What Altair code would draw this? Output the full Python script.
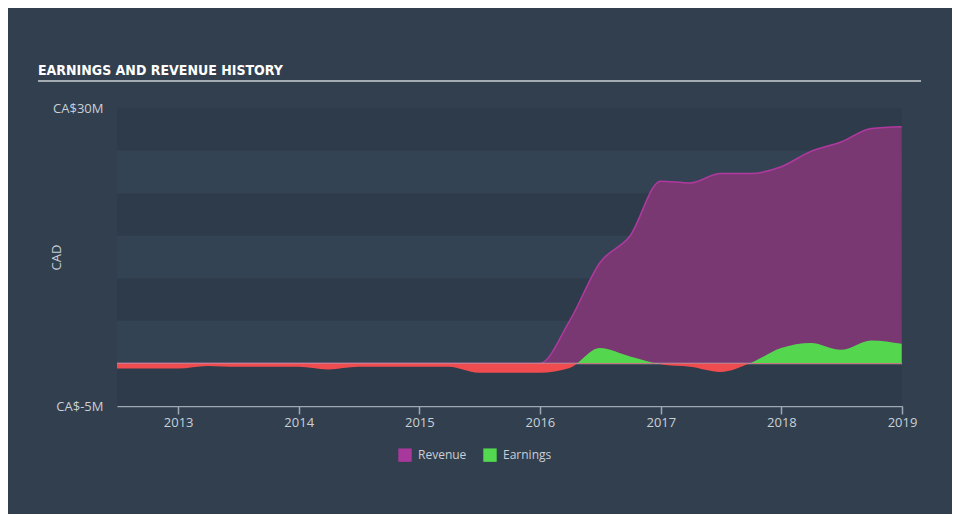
import altair as alt
import pandas as pd

# ---- data ----
dates = [
    "2012-06-30", "2012-09-30", "2012-12-31",
    "2013-03-31", "2013-06-30", "2013-09-30", "2013-12-31",
    "2014-03-31", "2014-06-30", "2014-09-30", "2014-12-31",
    "2015-03-31", "2015-06-30", "2015-09-30", "2015-12-31",
    "2016-03-31", "2016-06-30", "2016-09-30", "2016-12-31",
    "2017-03-31", "2017-06-30", "2017-09-30", "2017-12-31",
    "2018-03-31", "2018-06-30", "2018-09-30", "2018-12-31",
]
revenue = [
    0.0, 0.0, 0.0,
    0.0, 0.0, 0.0, 0.0,
    0.0, 0.0, 0.0, 0.0,
    0.0, 0.0, 0.0, 0.0,
    5.0, 11.8, 15.0, 21.4,
    21.2, 22.3, 22.3, 23.1,
    24.9, 26.0, 27.6, 27.8,
]
earnings = [
    -0.6, -0.6, -0.6,
    -0.3, -0.4, -0.4, -0.4,
    -0.7, -0.4, -0.4, -0.4,
    -0.4, -1.1, -1.1, -1.1,
    -0.55, 1.8, 0.8, -0.1,
    -0.4, -1.0, 0.05, 1.8,
    2.4, 1.6, 2.7, 2.3,
]
band_lo = [-5, 5, 15, 25]
band_hi = [0, 10, 20, 30]
series = ["Revenue", "Earnings"]
series_colors = ["#a8389b", "#52d94f"]
y_ticks = [-5, 30]
title_text = "EARNINGS AND REVENUE HISTORY"

# ---- styling ----
W, H = 785, 298
BG = "#323f4e"
LIGHT_BAND = "#344353"
DARK_BAND = "#2e3b4a"
TXT = "#c9d0d7"
AXIS_LINE = "#9ea8b3"
FONT = "Open Sans"
TITLE_FONT = "'DejaVu Sans Condensed', 'Roboto Condensed', Roboto, sans-serif"

df = pd.DataFrame({"date": dates, "revenue": revenue, "earnings": earnings})
bands = pd.DataFrame({"lo": band_lo, "hi": band_hi})
leg = pd.DataFrame({"series": series, "date": [dates[0]] * 2, "v": [0, 0]})

xscale = alt.Scale(
    type="utc",
    domain=[alt.DateTime(year=2012, month=6, date=30, utc=True),
            alt.DateTime(year=2019, month=1, date=1, utc=True)],
)
yscale = alt.Scale(domain=[-5, 30], nice=False, zero=False)

xaxis = alt.Axis(
    format="%Y", tickCount=alt.TimeIntervalStep(interval="year", step=1),
    grid=False, title=None, domainColor=AXIS_LINE, domainWidth=1.5,
    tickColor=AXIS_LINE, tickSize=8, tickWidth=1.5,
    labelColor=TXT, labelFontSize=13, labelFont=FONT, labelPadding=2,
    labelFlush=False,
)
yaxis = alt.Axis(
    values=y_ticks, labelExpr="'CA$' + datum.value + 'M'",
    grid=False, domain=False, ticks=False, labelPadding=14,
    labelColor=TXT, labelFontSize=13, labelFont=FONT,
    title="CAD", titleColor=TXT, titleFont=FONT, titleFontSize=13,
    titleFontWeight="normal", titleX=-61, titleY=H / 2, titleBaseline="middle",
)

X = alt.X("date:T", scale=xscale, axis=xaxis)

band_layer = alt.Chart(bands).mark_rect(color=DARK_BAND).encode(
    y=alt.Y("lo:Q", scale=yscale, axis=yaxis),
    y2="hi:Q",
    x=alt.value(0),
    x2=alt.value(W),
)

base = alt.Chart(df)
rev_area = base.mark_area(color="#7a3873", interpolate="monotone").encode(
    x=X, y=alt.Y("revenue:Q", scale=yscale, axis=yaxis)
)
rev_line = base.mark_line(color="#b0399f", strokeWidth=1.5, interpolate="monotone").encode(
    x=X, y=alt.Y("revenue:Q", scale=yscale, axis=yaxis)
)
zero_rule = alt.Chart(pd.DataFrame({"z": [0]})).mark_rule(
    color="#b4bcc4", strokeWidth=1.5, opacity=0.8
).encode(y=alt.Y("z:Q", scale=yscale, axis=yaxis))

emax = max(max(earnings), 0)
emin = min(min(earnings), 0)
off = emax / (emax - emin)
grad = alt.LinearGradient(
    gradient="linear", x1=0, x2=0, y1=0, y2=1,
    stops=[
        alt.GradientStop(color="#54d64e", offset=0),
        alt.GradientStop(color="#54d64e", offset=off),
        alt.GradientStop(color="#ef4c4f", offset=off),
        alt.GradientStop(color="#ef4c4f", offset=1),
    ],
)
earn_area = base.mark_area(color=grad, interpolate="monotone").encode(
    x=X, y=alt.Y("earnings:Q", scale=yscale, axis=yaxis), y2=alt.datum(0)
)

legend_layer = alt.Chart(leg).mark_square(opacity=0, size=180).encode(
    x=X,
    y=alt.Y("v:Q", scale=yscale, axis=yaxis),
    color=alt.Color(
        "series:N",
        scale=alt.Scale(domain=series, range=series_colors),
        legend=alt.Legend(
            orient="none", legendX=281, legendY=340, direction="horizontal",
            title=None, symbolType="square", symbolSize=180, symbolOpacity=1,
            symbolStrokeWidth=0, labelColor=TXT, labelFontSize=12, labelFont=FONT,
            columnPadding=16, labelOffset=6,
        ),
    ),
)

title_layer = alt.Chart(pd.DataFrame({"t": [title_text]})).mark_text(
    align="left", baseline="alphabetic", font=TITLE_FONT,
    fontSize=14, fontWeight="bold", color="#ffffff",
).encode(text="t:N", x=alt.value(-79), y=alt.value(-33))

title_rule = alt.Chart(pd.DataFrame({"t": [0]})).mark_rule(
    color="#a3abb3", strokeWidth=2
).encode(x=alt.value(-79), x2=alt.value(804), y=alt.value(-27))

chart = alt.layer(
    band_layer, rev_area, rev_line, zero_rule, earn_area, legend_layer,
    title_layer, title_rule,
).properties(
    width=W, height=H, background=BG,
    autosize=alt.AutoSizeParams(type="none"),
    padding={"left": 109, "top": 100, "right": 50, "bottom": 108},
).configure_view(
    fill=LIGHT_BAND, stroke=None
)

chart.save("out.html", embed_options={"renderer": "svg", "actions": False})
